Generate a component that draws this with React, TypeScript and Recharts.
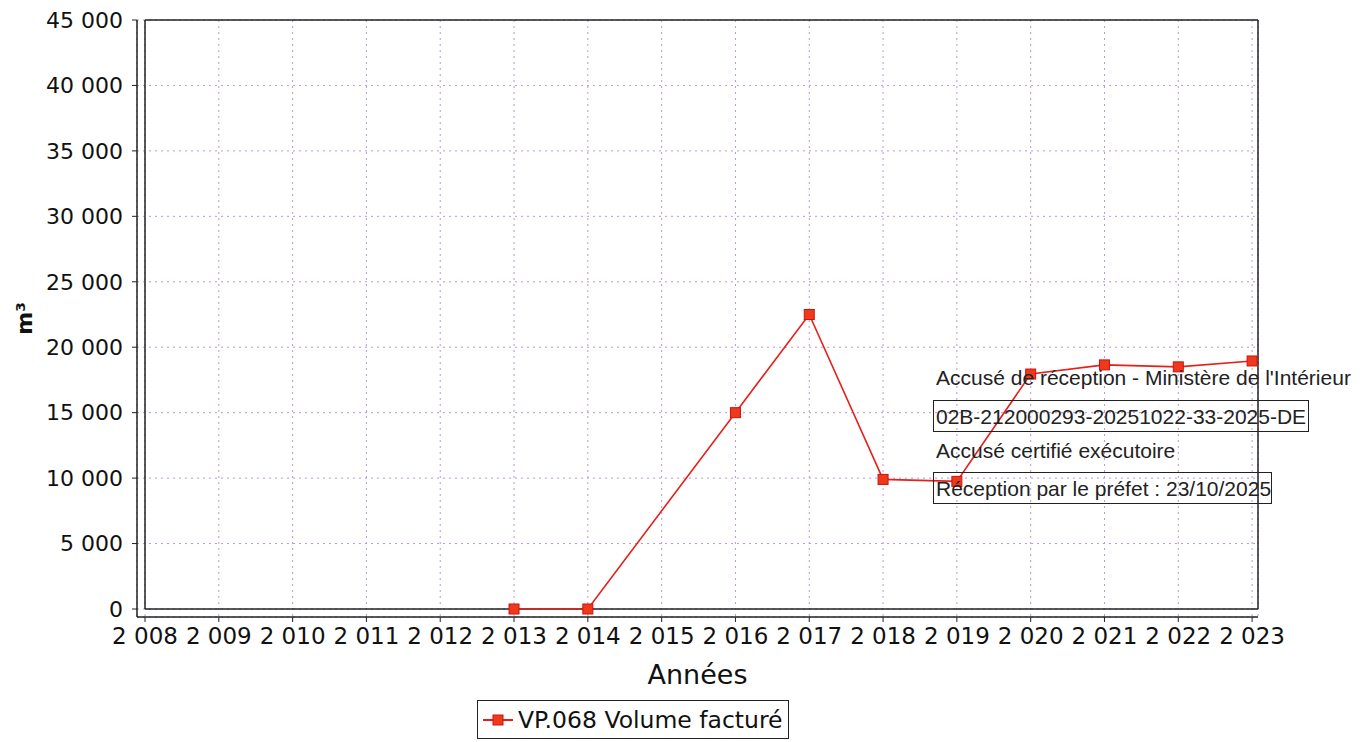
import { LineChart, Line, XAxis, YAxis, CartesianGrid, Legend, ReferenceLine } from 'recharts';

const years = [2008, 2009, 2010, 2011, 2012, 2013, 2014, 2015, 2016, 2017, 2018, 2019, 2020, 2021, 2022, 2023];
const volumes: (number | null)[] = [null, null, null, null, null, 0, 0, null, 15000, 22500, 9900, 9750, 17950, 18650, 18500, 18950];
const yTicks = [0, 5000, 10000, 15000, 20000, 25000, 30000, 35000, 40000, 45000];
const seriesName = 'VP.068 Volume facturé';
const stampLines = [
  'Accusé de réception - Ministère de l\'Intérieur',
  '02B-212000293-20251022-33-2025-DE',
  'Accusé certifié exécutoire',
  'Réception par le préfet : 23/10/2025',
];

const data = years.map((year, i) => ({ year, volume: volumes[i] }));

const X_MAX = 2023.08;
const RED = '#e5201a';
const FRAME = '#222';

function formatThousands(v: number): string {
  return String(v).replace(/\B(?=(\d{3})+(?!\d))/g, ' ');
}

function SquareDot(props: any) {
  const { cx, cy, value } = props;
  if (cx == null || cy == null || value == null) return null;
  return <rect x={cx - 5} y={cy - 5} width={10} height={10} fill="#ee3a1a" stroke="#d01010" strokeWidth={1} />;
}

function LegendBox() {
  return (
    <div
      style={{
        display: 'inline-flex',
        alignItems: 'center',
        border: '1.5px solid #222',
        height: 37,
        padding: '0 5px 0 4px',
        fontFamily: '"DejaVu Sans", sans-serif',
        fontSize: 23.5,
        color: '#111',
        background: '#fff',
      }}
    >
      <svg width={32} height={16} style={{ marginRight: 4 }}>
        <line x1={1} y1={8} x2={31} y2={8} stroke={RED} strokeWidth={2} />
        <rect x={11} y={3} width={10} height={10} fill="#ee3a1a" stroke="#d01010" />
      </svg>
      <span>{seriesName}</span>
    </div>
  );
}

const stampText: React.CSSProperties = {
  position: 'absolute',
  fontFamily: '"Liberation Sans", Arial, sans-serif',
  fontSize: 21,
  color: '#222',
  whiteSpace: 'nowrap',
  lineHeight: '21px',
};

export default function App() {
  return (
    <div style={{ position: 'absolute', left: 0, top: 0, width: 1372, height: 742, background: '#fff' }}>
      <LineChart width={1372} height={742} data={data} margin={{ top: 20, right: 114, bottom: 0, left: 0 }}>
        <CartesianGrid stroke="#b899cc" strokeDasharray="2 4" />
        <XAxis
          dataKey="year"
          type="number"
          domain={[2008, X_MAX]}
          ticks={years}
          tickFormatter={formatThousands}
          padding={{ left: 8, right: 0 }}
          height={83}
          tickSize={5}
          tickMargin={6}
          axisLine={{ stroke: FRAME, strokeWidth: 1.5 }}
          tickLine={{ stroke: FRAME }}
          tick={{ fill: '#111', fontSize: 23, fontFamily: '"DejaVu Sans", sans-serif' }}
          label={{
            value: 'Années',
            position: 'insideBottom',
            offset: 16,
            style: { fontSize: 27, fontFamily: '"DejaVu Sans", sans-serif', fill: '#111' },
          }}
        />
        <YAxis
          type="number"
          domain={[0, 45000]}
          ticks={yTicks}
          tickFormatter={formatThousands}
          padding={{ top: 0, bottom: 8 }}
          width={137}
          tickSize={5}
          tickMargin={9}
          axisLine={{ stroke: FRAME, strokeWidth: 1.5 }}
          tickLine={{ stroke: FRAME }}
          tick={{ fill: '#111', fontSize: 22, fontFamily: '"DejaVu Sans", sans-serif' }}
          label={{
            content: (p: any) => {
              const vb = p.viewBox || {};
              const cy = (vb.y ?? 0) + (vb.height ?? 0) / 2;
              return (
                <text
                  x={24}
                  y={cy}
                  transform={`rotate(-90 24 ${cy})`}
                  textAnchor="middle"
                  dominantBaseline="central"
                  fontSize={22}
                  fontWeight="bold"
                  fontFamily='"DejaVu Sans", sans-serif'
                  fill="#111"
                >
                  m³
                </text>
              );
            },
          }}
        />
        <ReferenceLine segment={[{ x: 2008, y: 45000 }, { x: X_MAX, y: 45000 }]} stroke={FRAME} strokeWidth={1.5} />
        <ReferenceLine segment={[{ x: X_MAX, y: 0 }, { x: X_MAX, y: 45000 }]} stroke={FRAME} strokeWidth={1.5} />
        <ReferenceLine segment={[{ x: 2008, y: 0 }, { x: 2008, y: 45000 }]} stroke={FRAME} strokeWidth={1.5} />
        <ReferenceLine segment={[{ x: 2008, y: 0 }, { x: X_MAX, y: 0 }]} stroke={FRAME} strokeWidth={1.5} />
        <Legend
          verticalAlign="bottom"
          content={() => <LegendBox />}
          wrapperStyle={{ left: 477, width: 330, height: 42, bottom: 0 }}
        />
        <Line
          type="linear"
          dataKey="volume"
          name={seriesName}
          stroke={RED}
          strokeWidth={1.6}
          connectNulls
          dot={<SquareDot />}
          activeDot={false}
          isAnimationActive={false}
        />
      </LineChart>
      <div style={{ ...stampText, left: 936, top: 367 }}>{stampLines[0]}</div>
      <div style={{ ...stampText, left: 933, top: 400, width: 376, height: 32, border: '1.5px solid #222', paddingLeft: 2, paddingTop: 5, boxSizing: 'border-box' }}>
        {stampLines[1]}
      </div>
      <div style={{ ...stampText, left: 936, top: 440 }}>{stampLines[2]}</div>
      <div style={{ ...stampText, left: 933, top: 472, width: 339, height: 32, border: '1.5px solid #222', paddingLeft: 2, paddingTop: 5, boxSizing: 'border-box' }}>
        {stampLines[3]}
      </div>
    </div>
  );
}
